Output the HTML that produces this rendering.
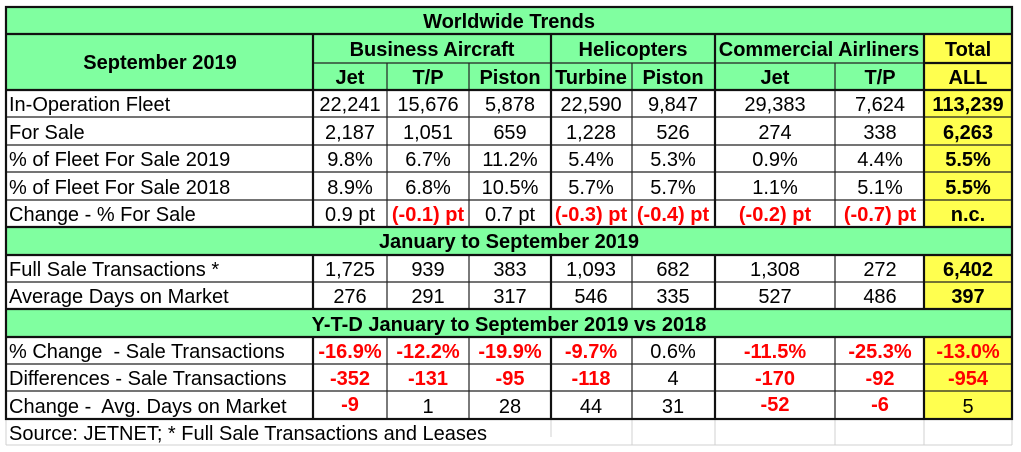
<!DOCTYPE html>
<html><head><meta charset="utf-8"><style>
html,body{margin:0;padding:0;background:#fff;}
svg{display:block;}
text{font-family:"Liberation Sans",Arial,sans-serif;font-size:20px;fill:#000;}
.b{font-weight:bold;}
.r{fill:#f00;font-weight:bold;}
</style></head><body>
<svg width="1021" height="452" viewBox="0 0 1021 452" xmlns="http://www.w3.org/2000/svg">
<rect x="6" y="7" width="1006" height="83" fill="#80FFA0"/>
<rect x="924" y="34" width="88" height="385" fill="#FFFF4F"/>
<rect x="6" y="227" width="1006" height="28" fill="#80FFA0"/>
<rect x="6" y="309" width="1006" height="28" fill="#80FFA0"/>
<g stroke="#d0d0d0" stroke-width="1">
<line x1="551" y1="419" x2="551" y2="437"/><line x1="632" y1="419" x2="632" y2="445"/><line x1="715" y1="419" x2="715" y2="445"/><line x1="835" y1="419" x2="835" y2="445"/><line x1="924" y1="419" x2="924" y2="445"/><line x1="1012" y1="419" x2="1012" y2="445"/><line x1="6" y1="445" x2="1012" y2="445"/><line x1="6" y1="419" x2="6" y2="445"/>
</g>
<g stroke="#222" stroke-width="1.2">
<line x1="313" y1="63" x2="924" y2="63"/>
<line x1="6" y1="117" x2="1012" y2="117"/><line x1="6" y1="145" x2="1012" y2="145"/><line x1="6" y1="172" x2="1012" y2="172"/><line x1="6" y1="200" x2="1012" y2="200"/>
<line x1="6" y1="282" x2="1012" y2="282"/><line x1="6" y1="364" x2="1012" y2="364"/><line x1="6" y1="391" x2="1012" y2="391"/>
<line x1="387" y1="63" x2="387" y2="227"/><line x1="469" y1="63" x2="469" y2="227"/><line x1="632" y1="63" x2="632" y2="227"/><line x1="835" y1="63" x2="835" y2="227"/>
<line x1="387" y1="255" x2="387" y2="309"/><line x1="469" y1="255" x2="469" y2="309"/><line x1="632" y1="255" x2="632" y2="309"/><line x1="835" y1="255" x2="835" y2="309"/>
<line x1="387" y1="337" x2="387" y2="419"/><line x1="469" y1="337" x2="469" y2="419"/><line x1="632" y1="337" x2="632" y2="419"/><line x1="835" y1="337" x2="835" y2="419"/>
</g>
<g stroke="#111" stroke-width="2.2">
<rect x="6" y="7" width="1006" height="412" fill="none"/>
<line x1="6" y1="34" x2="1012" y2="34"/><line x1="924" y1="63" x2="1012" y2="63"/>
<line x1="6" y1="90" x2="1012" y2="90"/>
<line x1="6" y1="227" x2="1012" y2="227"/><line x1="6" y1="255" x2="1012" y2="255"/>
<line x1="6" y1="309" x2="1012" y2="309"/><line x1="6" y1="337" x2="1012" y2="337"/>
<line x1="313" y1="34" x2="313" y2="227"/><line x1="313" y1="255" x2="313" y2="309"/><line x1="313" y1="337" x2="313" y2="419"/>
<line x1="551" y1="34" x2="551" y2="227"/><line x1="551" y1="255" x2="551" y2="309"/><line x1="551" y1="337" x2="551" y2="419"/>
<line x1="715" y1="34" x2="715" y2="227"/><line x1="715" y1="255" x2="715" y2="309"/><line x1="715" y1="337" x2="715" y2="419"/>
<line x1="924" y1="34" x2="924" y2="227"/><line x1="924" y1="255" x2="924" y2="309"/><line x1="924" y1="337" x2="924" y2="419"/>
</g>
<g text-anchor="middle">
<text class="b" x="509" y="28">Worldwide Trends</text>
<text class="b" x="160" y="69">September 2019</text>
<text class="b" x="432" y="56">Business Aircraft</text>
<text class="b" x="633" y="56">Helicopters</text>
<text class="b" x="819" y="56">Commercial Airliners</text>
<text class="b" x="968" y="56">Total</text>
<text class="b" x="350" y="84">Jet</text><text class="b" x="428" y="84">T/P</text><text class="b" x="510" y="84">Piston</text><text class="b" x="591" y="84">Turbine</text><text class="b" x="673" y="84">Piston</text><text class="b" x="775" y="84">Jet</text><text class="b" x="880" y="84">T/P</text><text class="b" x="968" y="84">ALL</text>
<text class="b" x="509" y="248">January to September 2019</text>
<text class="b" x="509" y="331">Y-T-D January to September 2019 vs 2018</text>
</g>
<g>
<text x="9" y="111">In-Operation Fleet</text>
<text x="9" y="139">For Sale</text>
<text x="9" y="166">% of Fleet For Sale 2019</text>
<text x="9" y="194">% of Fleet For Sale 2018</text>
<text x="9" y="221">Change - % For Sale</text>
<text x="9" y="276">Full Sale Transactions *</text>
<text x="9" y="303">Average Days on Market</text>
<text x="9" y="358" xml:space="preserve">% Change  - Sale Transactions</text>
<text x="9" y="385">Differences - Sale Transactions</text>
<text x="9" y="413" xml:space="preserve">Change -  Avg. Days on Market</text>
<text x="9" y="440">Source: JETNET; * Full Sale Transactions and Leases</text>
</g>
<g text-anchor="middle">
<text x="350" y="111">22,241</text><text x="428" y="111">15,676</text><text x="510" y="111">5,878</text><text x="591" y="111">22,590</text><text x="673" y="111">9,847</text><text x="775" y="111">29,383</text><text x="880" y="111">7,624</text><text class="b" x="968" y="111">113,239</text>
<text x="350" y="139">2,187</text><text x="428" y="139">1,051</text><text x="510" y="139">659</text><text x="591" y="139">1,228</text><text x="673" y="139">526</text><text x="775" y="139">274</text><text x="880" y="139">338</text><text class="b" x="968" y="139">6,263</text>
<text x="350" y="166">9.8%</text><text x="428" y="166">6.7%</text><text x="510" y="166">11.2%</text><text x="591" y="166">5.4%</text><text x="673" y="166">5.3%</text><text x="775" y="166">0.9%</text><text x="880" y="166">4.4%</text><text class="b" x="968" y="166">5.5%</text>
<text x="350" y="194">8.9%</text><text x="428" y="194">6.8%</text><text x="510" y="194">10.5%</text><text x="591" y="194">5.7%</text><text x="673" y="194">5.7%</text><text x="775" y="194">1.1%</text><text x="880" y="194">5.1%</text><text class="b" x="968" y="194">5.5%</text>
<text x="350" y="221">0.9 pt</text><text class="r" x="428" y="221">(-0.1) pt</text><text x="510" y="221">0.7 pt</text><text class="r" x="591" y="221">(-0.3) pt</text><text class="r" x="673" y="221">(-0.4) pt</text><text class="r" x="775" y="221">(-0.2) pt</text><text class="r" x="880" y="221">(-0.7) pt</text><text class="b" x="968" y="221">n.c.</text>
<text x="350" y="276">1,725</text><text x="428" y="276">939</text><text x="510" y="276">383</text><text x="591" y="276">1,093</text><text x="673" y="276">682</text><text x="775" y="276">1,308</text><text x="880" y="276">272</text><text class="b" x="968" y="276">6,402</text>
<text x="350" y="303">276</text><text x="428" y="303">291</text><text x="510" y="303">317</text><text x="591" y="303">546</text><text x="673" y="303">335</text><text x="775" y="303">527</text><text x="880" y="303">486</text><text class="b" x="968" y="303">397</text>
<text class="r" x="350" y="358">-16.9%</text><text class="r" x="428" y="358">-12.2%</text><text class="r" x="510" y="358">-19.9%</text><text class="r" x="591" y="358">-9.7%</text><text x="673" y="358">0.6%</text><text class="r" x="775" y="358">-11.5%</text><text class="r" x="880" y="358">-25.3%</text><text class="r" x="968" y="358">-13.0%</text>
<text class="r" x="350" y="385">-352</text><text class="r" x="428" y="385">-131</text><text class="r" x="510" y="385">-95</text><text class="r" x="591" y="385">-118</text><text x="673" y="385">4</text><text class="r" x="775" y="385">-170</text><text class="r" x="880" y="385">-92</text><text class="r" x="968" y="385">-954</text>
<text class="r" x="350" y="411">-9</text><text x="428" y="413">1</text><text x="510" y="413">28</text><text x="591" y="413">44</text><text x="673" y="413">31</text><text class="r" x="775" y="411">-52</text><text class="r" x="880" y="411">-6</text><text x="968" y="413">5</text>
</g>
</svg>
</body></html>
